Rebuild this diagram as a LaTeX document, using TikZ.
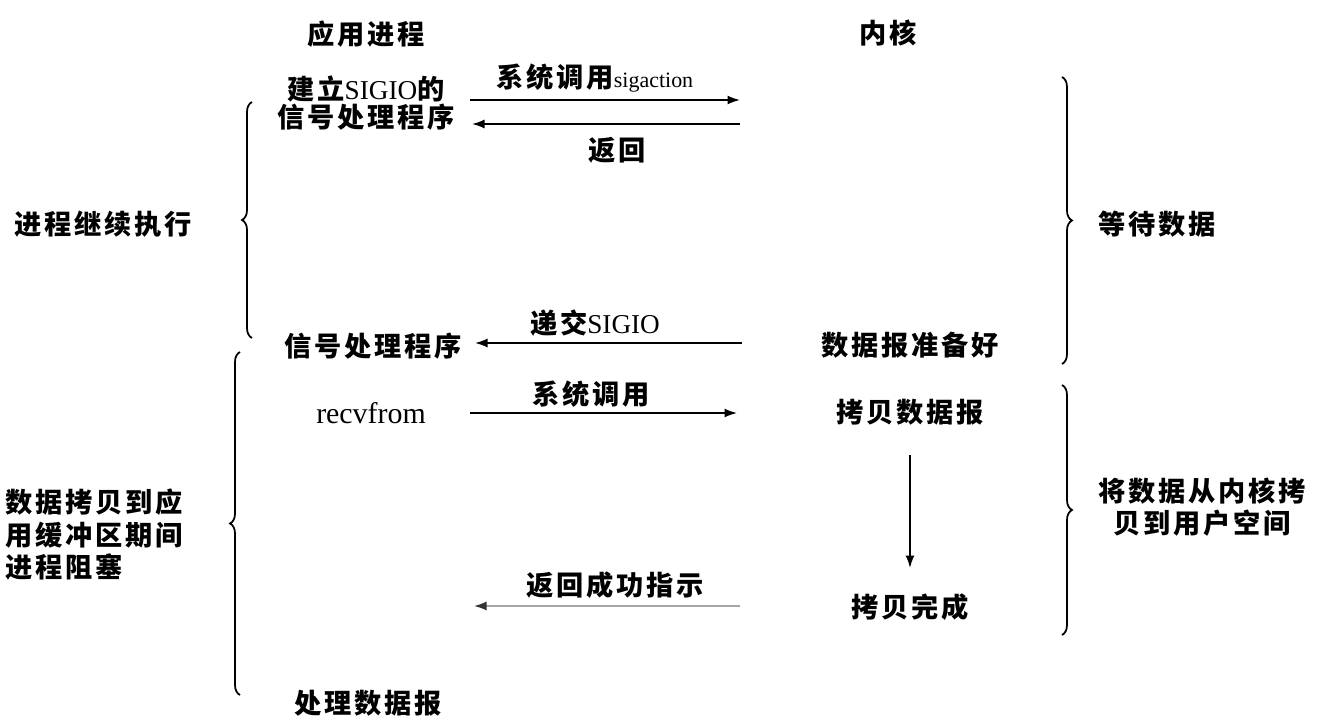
\documentclass[tikz,border=0pt]{standalone}
\usepackage{fontspec}
\setmainfont{Liberation Serif}
\newfontfamily\cjk[LetterSpace=10]{Noto Sans CJK SC}
\newfontfamily\latin{Liberation Serif}
\usetikzlibrary{arrows.meta,decorations.pathreplacing}
\newcommand\lat[1]{{\latin\mdseries #1}}
\tikzset{
    txt/.style={inner sep=0pt,font=\cjk\bfseries\fontsize{15.5}{18.5}\selectfont},
    arr/.style={line width=0.9pt,-{Latex[length=2.5mm,width=1.8mm]}},
    faint/.style={line width=0.9pt,draw=black!35,-{Latex[length=2.5mm,width=1.8mm,color=black!80]}},
    brc/.style={line width=1pt,decorate,decoration={brace,amplitude=2mm}}
}
\begin{document}
\begin{tikzpicture}[x=0.02cm,y=-0.02cm]
                    \useasboundingbox (0,0) rectangle (1322,723);
                    \node[txt] (app) at (366,34) {应用进程};
                    \node[txt] (kern) at (888,33) {内核};
                    \node[txt,align=center] (setup) at (366,103) {建立\lat{SIGIO}的\\[-3pt]信号处理程序};
                    \node[txt] (sigcall) at (595,78) {系统调用\lat{\fontsize{12.5}{14}\selectfont sigaction}};
                    \node[txt] (ret) at (617,150) {返回};
                    \node[txt] (cont) at (103,224) {进程继续执行};
                    \node[txt] (wait) at (1157,224) {等待数据};
                    \node[txt] (deliver) at (595,323) {递交\lat{SIGIO}};
                    \node[txt] (handler) at (373,346) {信号处理程序};
                    \node[txt] (ready) at (910,345) {数据报准备好};
                    \node[txt] (syscall) at (591,394) {系统调用};
                    \node[txt] (recv) at (371,413) {\lat{\fontsize{17}{19}\selectfont recvfrom}};
                    \node[txt] (copy) at (910,412) {拷贝数据报};
                    \node[txt,align=center] (tousr) at (1202,507) {将数据从内核拷\\贝到用户空间};
                    \node[txt,align=left,anchor=west] (block) at (5,535) {数据拷贝到应\\用缓冲区期间\\进程阻塞};
                    \node[txt] (okmsg) at (615,585) {返回成功指示};
                    \node[txt] (done) at (910,607) {拷贝完成};
                    \node[txt] (proc) at (368,703) {处理数据报};
                    \coordinate (sigL) at (470,100);
                    \coordinate (sigR) at (740,100);
                    \coordinate (retL) at (472,124);
                    \coordinate (retR) at (740,124);
                    \coordinate (delL) at (475,343);
                    \coordinate (delR) at (742,343);
                    \coordinate (recvL) at (470,413);
                    \coordinate (recvR) at (737,413);
                    \coordinate (copyT) at (910,455);
                    \coordinate (copyB) at (910,568);
                    \coordinate (okL) at (474,606);
                    \coordinate (okR) at (740,606);
                    \draw[arr] (sigL) -- (sigR);
                    \draw[arr] (retR) -- (retL);
                    \draw[arr] (delR) -- (delL);
                    \draw[arr] (recvL) -- (recvR);
                    \draw[arr] (copyT) -- (copyB);
                    \draw[faint] (okR) -- (okL);
                    \draw[brc] (252,338) -- (252,102);
                    \draw[brc] (240,695) -- (240,352);
                    \draw[brc] (1062,77) -- (1062,364);
                    \draw[brc] (1062,385) -- (1062,635);
                \end{tikzpicture}
\end{document}
